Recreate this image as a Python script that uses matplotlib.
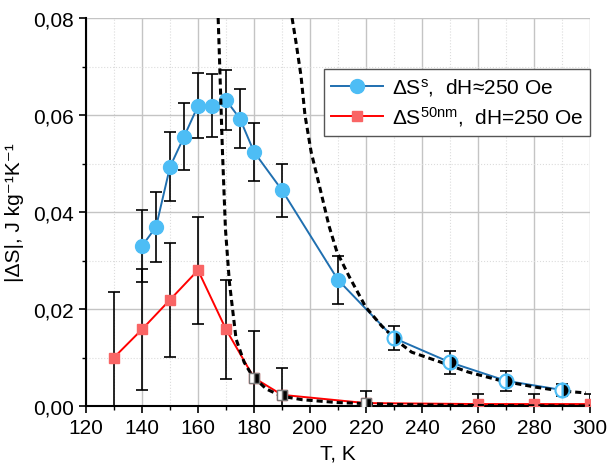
import matplotlib
matplotlib.use("Agg")
import matplotlib.pyplot as plt
from matplotlib.ticker import MultipleLocator, FuncFormatter

plt.rcParams['font.family'] = ['Liberation Sans', 'DejaVu Sans']
plt.rcParams['mathtext.fontset'] = 'custom'
plt.rcParams['mathtext.rm'] = 'Liberation Sans'
plt.rcParams['mathtext.it'] = 'Liberation Sans:italic'

# ΔS^s data (blue circles)
T_s = [140, 145, 150, 155, 160, 165, 170, 175, 180, 190, 210, 230, 250, 270, 290]
S_s = [0.0330, 0.0369, 0.0493, 0.0555, 0.0619, 0.0619, 0.0631, 0.0592, 0.0524,
       0.0445, 0.0260, 0.0140, 0.0090, 0.0052, 0.0033]
err_s = [0.0075, 0.0073, 0.0071, 0.0069, 0.0067, 0.0065, 0.0062, 0.0061, 0.0060,
         0.0055, 0.0050, 0.0024, 0.0023, 0.0021, 0.0012]

# ΔS^50nm data (red squares)
T_n = [130, 140, 150, 160, 170, 180, 190, 220, 260, 280, 300]
S_n = [0.0100, 0.0158, 0.0219, 0.0280, 0.0158, 0.0058, 0.0023, 0.0006, 0.0004, 0.0004, 0.0004]
err_n = [0.0135, 0.0125, 0.0117, 0.0110, 0.0102, 0.0097, 0.0055, 0.0024, 0.0020, 0.0020, 0.0020]

# points used for fits (half-filled markers)
T_fs = [180, 190, 220]
S_fs = [0.0058, 0.0023, 0.0006]
T_fc = [230, 250, 270, 290]
S_fc = [0.0140, 0.0090, 0.0052, 0.0033]

# dashed fit curves
T_f1 = [167.2, 167.6, 168.7, 169.8, 171.2, 173.6, 176.5, 179.4, 184.4, 190.0, 197.2, 210, 230, 260, 300]
S_f1 = [0.080, 0.073, 0.053, 0.0365, 0.0256, 0.0138, 0.0090, 0.0062, 0.0035, 0.0020, 0.0013,
        0.0007, 0.0003, 0.0001, 0.0]
T_f2 = [193.6, 195.0, 196.8, 198.2, 200.4, 203.9, 206.8, 209.6, 213.9, 219.9, 225.6, 231.6,
        236.3, 245.9, 256.5, 268.3, 280.4, 289.6, 298.5]
S_f2 = [0.080, 0.075, 0.068, 0.060, 0.0524, 0.0441, 0.0371, 0.0318, 0.0268, 0.0204, 0.0165,
        0.0132, 0.0111, 0.0092, 0.0070, 0.0052, 0.0039, 0.0031, 0.0027]

fig = plt.figure(figsize=(6.08, 4.64), dpi=100)
ax = fig.add_axes([86 / 608, 1 - 407 / 464, (590 - 86) / 608, 388 / 464])

blue_line = '#1f6fb0'
blue_face = '#4dbdf5'
red_line = '#ff0000'
red_face = '#f96565'
FS = 15

ax.errorbar(T_s, S_s, yerr=err_s, fmt='none', ecolor='black', elinewidth=1.2,
            capsize=4, capthick=1.2, zorder=3)
ax.errorbar(T_n, S_n, yerr=err_n, fmt='none', ecolor='black', elinewidth=1.2,
            capsize=4, capthick=1.2, zorder=3)

ax.plot(T_s, S_s, '-', color=blue_line, lw=1.4, marker='o', ms=10,
        mfc=blue_face, mec=blue_face, zorder=4, label='ΔS$^{\\rm s}$,  dH≈250 Oe')
ax.plot(T_n, S_n, '-', color=red_line, lw=1.4, marker='s', ms=6.5,
        mfc=red_face, mec=red_face, zorder=4, label='ΔS$^{\\rm 50nm}$,  dH=250 Oe')

ax.plot(T_f1, S_f1, color='black', lw=2.2, ls=(0, (2.0, 1.3)), zorder=5)
ax.plot(T_f2, S_f2, color='black', lw=2.2, ls=(0, (2.0, 1.3)), zorder=5)

ax.plot(T_fs, S_fs, 's', ms=6.5, fillstyle='right', mfc='black', mfcalt='white',
        mec='#777777', mew=1.0, zorder=6)
ax.plot(T_fc, S_fc, 'o', ms=10, fillstyle='right', mfc='black', mfcalt='white',
        mec=blue_face, mew=1.5, zorder=6)

ax.set_xlim(120, 300)
ax.set_ylim(0, 0.08)
ax.xaxis.set_major_locator(MultipleLocator(20))
ax.xaxis.set_minor_locator(MultipleLocator(10))
ax.yaxis.set_major_locator(MultipleLocator(0.02))
ax.yaxis.set_minor_locator(MultipleLocator(0.01))
ax.yaxis.set_major_formatter(FuncFormatter(lambda v, p: f'{v:.2f}'.replace('.', ',')))

ax.grid(which='major', color='#c4c4c4', lw=1.0, ls='-', zorder=0)
ax.grid(which='minor', color='#dcdcdc', lw=0.8, ls=':', zorder=0)
ax.set_axisbelow(True)

for s in ['top', 'right']:
    ax.spines[s].set_visible(False)
for s in ['left', 'bottom']:
    ax.spines[s].set_linewidth(1.5)
ax.tick_params(which='major', direction='out', length=5, width=1.2, labelsize=FS)
ax.tick_params(which='minor', direction='out', length=3, width=1.0)

ax.set_xlabel('T, K', fontsize=FS, labelpad=4.5)
ax.set_ylabel('|ΔS|, J kg⁻¹K⁻¹', fontsize=FS, labelpad=7)

leg = ax.legend(loc='upper right', bbox_to_anchor=(1.0, 0.869), borderaxespad=0,
                fontsize=FS, frameon=True, fancybox=False, framealpha=1,
                edgecolor='#555555', handlelength=2.5, handletextpad=0.4,
                borderpad=0.35, labelspacing=0.3)
leg.get_frame().set_linewidth(1.0)

fig.savefig('out.png', dpi=100)
